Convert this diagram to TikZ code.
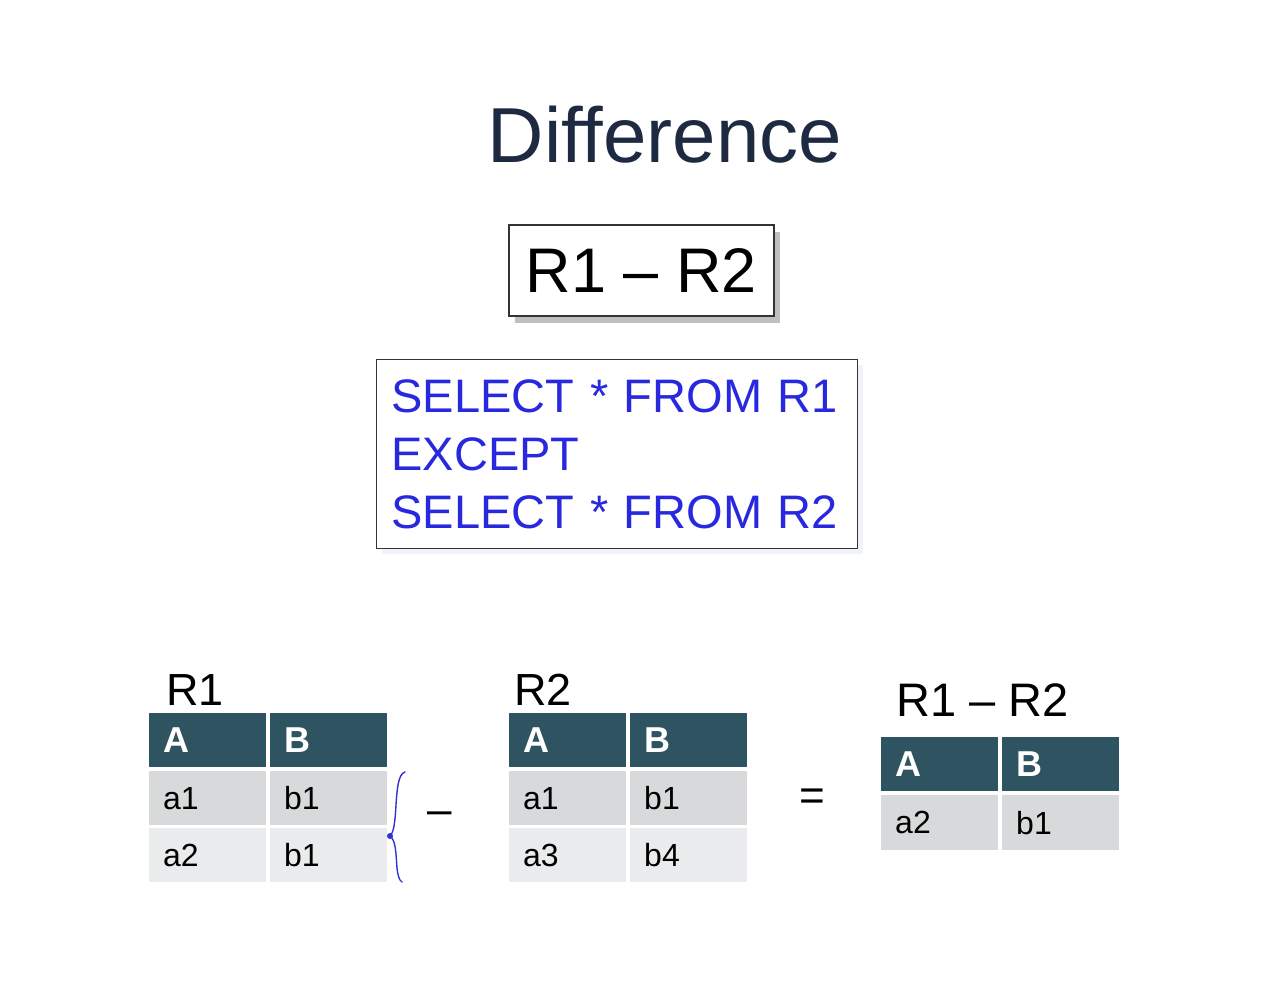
\documentclass[tikz,border=0pt]{standalone}
\usepackage{fontspec}
\setmainfont{Liberation Sans}
\usetikzlibrary{shadows}
\definecolor{titlec}{RGB}{30,42,66}
\definecolor{sqlc}{RGB}{40,40,222}
\definecolor{hdrc}{RGB}{46,83,97}
\definecolor{rowac}{RGB}{216,217,218}
\definecolor{rowbc}{RGB}{234,235,236}
\definecolor{bracec}{RGB}{50,50,210}
\definecolor{glowc}{RGB}{226,233,243}
\begin{document}
\begin{tikzpicture}[x=1pt,y=-1pt,
  cell/.style={anchor=north west, minimum height=54pt, text width=89pt,
    inner xsep=14pt, inner ysep=0pt, align=left},
  hdr/.style={cell, fill=hdrc, text=white, font=\fontsize{36}{40}\selectfont\bfseries},
  rowa/.style={cell, fill=rowac, font=\fontsize{32}{36}\selectfont},
  rowb/.style={cell, fill=rowbc, font=\fontsize{32}{36}\selectfont},
  lbl/.style={anchor=base west, inner sep=0pt, font=\fontsize{45}{50}\selectfont},
  op/.style={inner sep=0pt, font=\fontsize{44}{50}\selectfont}
]
\useasboundingbox[fill=white] (0,0) rectangle (1266,1004);

% title
\node[text=titlec, font=\fontsize{78}{84}\selectfont] (title) at (665,135) {Difference};

% expression box
\node[draw=black!80, line width=1.3pt, fill=white, minimum width=265pt, minimum height=91pt,
  inner sep=0pt, font=\fontsize{63}{70}\selectfont,
  drop shadow={shadow xshift=6pt, shadow yshift=-7pt, fill=black!50}] (expr) at (641.5,270.5) {R1 – R2};

% SQL box
\node[draw=black!80, line width=1.1pt, fill=white, anchor=north west,
  minimum width=481pt, minimum height=189pt, text width=451pt, inner xsep=15pt, inner ysep=0pt,
  align=left, text=sqlc, font=\fontsize{47}{58}\selectfont,
  drop shadow={shadow xshift=5pt, shadow yshift=-5pt, fill=glowc}] (sql) at (376,359)
  {SELECT * FROM R1\\EXCEPT\\SELECT * FROM R2};

% R1 table
\node[lbl] (r1lbl) at (166,705) {R1};
\node[hdr] (r1h1) at (149,713) {A};
\node[hdr] (r1h2) at (270,713) {B};
\node[rowa] (r1a1) at (149,771) {a1};
\node[rowa] (r1a2) at (270,771) {b1};
\node[rowb] (r1b1) at (149,828) {a2};
\node[rowb] (r1b2) at (270,828) {b1};

% brace
\draw[bracec, line width=1.4pt, line cap=round]
  (405,772) .. controls (398,774) and (397,790) .. (396,805)
  .. controls (395,822) and (394,832) .. (390,836)
  .. controls (396,840) and (396,855) .. (397,868)
  .. controls (398,876) and (399,880) .. (402,882);
\fill[bracec] (390,836) circle (3);

% operators
\node[op] (minus) at (440,818) {–};
\node[op] (equals) at (812,800) {=};

% R2 table
\node[lbl] (r2lbl) at (514,705) {R2};
\node[hdr] (r2h1) at (509,713) {A};
\node[hdr] (r2h2) at (630,713) {B};
\node[rowa] (r2a1) at (509,771) {a1};
\node[rowa] (r2a2) at (630,771) {b1};
\node[rowb] (r2b1) at (509,828) {a3};
\node[rowb] (r2b2) at (630,828) {b4};

% result table
\node[lbl, font=\fontsize{47}{52}\selectfont] (reslbl) at (896,716) {R1 – R2};
\node[hdr] (rsh1) at (881,737) {A};
\node[hdr] (rsh2) at (1002,737) {B};
\node[rowa, minimum height=55pt] (rsa1) at (881,795) {a2};
\node[rowa, minimum height=55pt] (rsa2) at (1002,795) {b1};
\end{tikzpicture}
\end{document}
